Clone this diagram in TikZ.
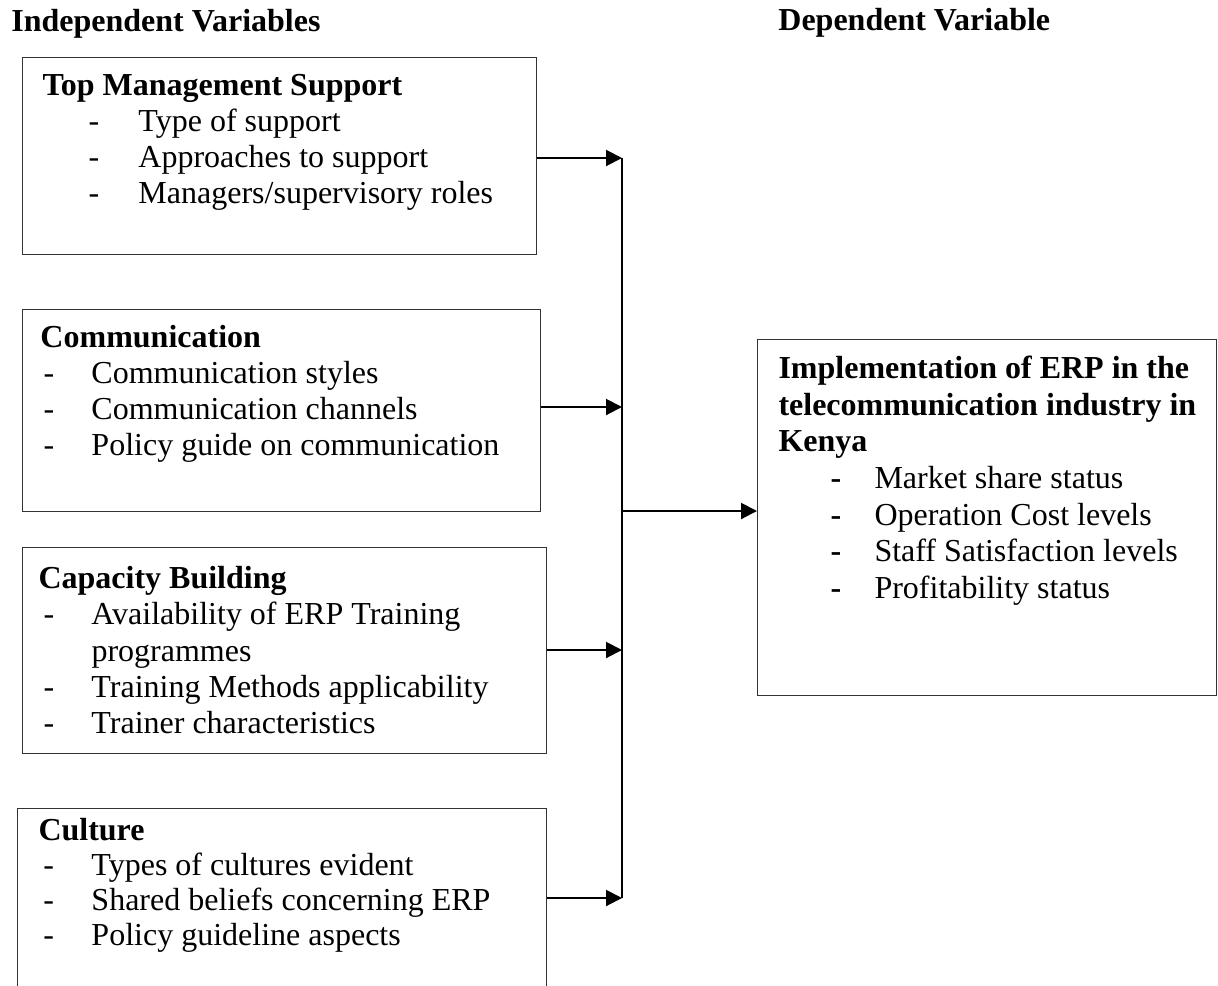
\documentclass[tikz,border=0pt]{standalone}
\usepackage{fontspec}
\setmainfont{Liberation Serif}
\usetikzlibrary{arrows.meta, positioning}

% box contents: fixed-size parbox, lines placed by offsets
\newcommand{\boxtext}[4]{\parbox[t][#1][t]{#2}{\fontsize{16}{#3}\selectfont\lineskiplimit=-20pt #4}}
\newcommand{\boxhead}[3]{\rule{0pt}{#1}\hspace*{#2}\textbf{#3}\par}
\newcommand{\boxline}[2]{\hspace*{#1}#2\par}
\newcommand{\boxitem}[4][-]{\hspace*{#2}\makebox[#3][l]{#1}#4\par}

\begin{document}
\begin{tikzpicture}[
    x=0.5pt, y=-0.5pt,
    every node/.style={font=\fontsize{16}{18}\selectfont},
    varbox/.style={draw=black!80, line width=0.5pt, inner sep=0pt, anchor=north west},
    head/.style={font=\fontsize{16}{18}\selectfont\bfseries, inner sep=0pt, anchor=base west},
    bus/.style={line width=1pt},
    link/.style={-{Triangle[length=8pt, width=8pt]}, line width=1pt}
]
\useasboundingbox (0,0) rectangle (1218,985);
\clip (0,0) rectangle (1218,985);

% Column titles
\node[head] (indep) at (11,32)  {Independent Variables};
\node[head] (dep)   at (778,30) {Dependent Variable};

% Independent variables
\node[varbox] (tms) at (22,57) {\boxtext{98.5pt}{257pt}{18pt}{%
    \boxhead{19pt}{10pt}{Top Management Support}
    \boxitem{33pt}{25pt}{Type of support}
    \boxitem{33pt}{25pt}{Approaches to support}
    \boxitem{33pt}{25pt}{Managers/supervisory roles}}};

\node[varbox] (comm) at (22,309) {\boxtext{101pt}{259pt}{18pt}{%
    \boxhead{19pt}{9pt}{Communication}
    \boxitem{10.5pt}{24pt}{Communication styles}
    \boxitem{10.5pt}{24pt}{Communication channels}
    \boxitem{10.5pt}{24pt}{Policy guide on communication}}};

\node[varbox] (cap) at (22,547) {\boxtext{103pt}{262pt}{18.15pt}{%
    \boxhead{20.5pt}{8pt}{Capacity Building}
    \boxitem{10.5pt}{24pt}{Availability of ERP Training}
    \boxline{34.5pt}{programmes}
    \boxitem{10.5pt}{24pt}{Training Methods applicability}
    \boxitem{10.5pt}{24pt}{Trainer characteristics}}};

\node[varbox] (cult) at (17,808) {\boxtext{100pt}{264.5pt}{17.5pt}{%
    \boxhead{16pt}{10.5pt}{Culture}
    \boxitem{13pt}{24pt}{Types of cultures evident}
    \boxitem{13pt}{24pt}{Shared beliefs concerning ERP}
    \boxitem{13pt}{24pt}{Policy guideline aspects}}};

% Dependent variable
\node[varbox] (erp) at (757,339) {\boxtext{178pt}{229.5pt}{18.33pt}{%
    \boxhead{19.5pt}{10.5pt}{Implementation of ERP in the}
    \boxline{10.5pt}{\textbf{telecommunication industry in}}
    \boxline{10.5pt}{\textbf{Kenya}}
    \boxitem[\textbf{-}]{36.5pt}{22pt}{Market share status}
    \boxitem[\textbf{-}]{36.5pt}{22pt}{Operation Cost levels}
    \boxitem[\textbf{-}]{36.5pt}{22pt}{Staff Satisfaction levels}
    \boxitem[\textbf{-}]{36.5pt}{22pt}{Profitability status}}};

% Collector line
\coordinate (j1) at (622,158);
\coordinate (j2) at (622,407);
\coordinate (j3) at (622,650);
\coordinate (j4) at (622,898);
\coordinate (jm) at (622,511);
\draw[bus] (j1) -- (j4);

% Flows into the collector
\draw[link] (tms.east |- j1) -- (j1);
\draw[link] (comm.east |- j2) -- (j2);
\draw[link] (cap.east |- j3) -- (j3);
\draw[link] (cult.east |- j4) -- (j4);

% Flow to the dependent variable
\draw[link] (jm) -- (erp.west |- jm);
\end{tikzpicture}
\end{document}
